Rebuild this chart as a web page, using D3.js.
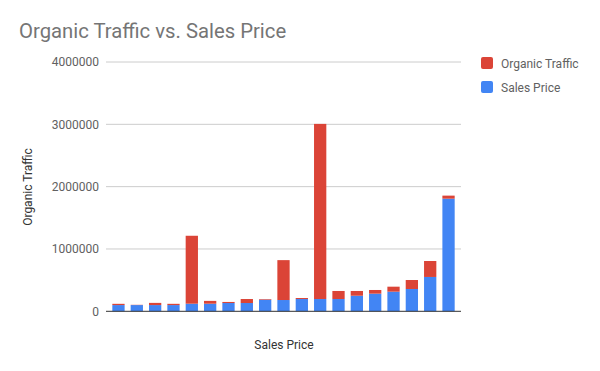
<!DOCTYPE html>
<html>
<head>
<meta charset="utf-8">
<script src="https://cdn.jsdelivr.net/npm/d3@7"></script>
<style>
  html, body { margin: 0; padding: 0; background: #fff; }
  svg { display: block; font-family: Roboto, "Noto Sans", sans-serif; }
</style>
</head>
<body>
<svg id="chart" width="600" height="371"></svg>
<script>
const categories = ["1","2","3","4","5","6","7","8","9","10","11","12","13","14","15","16","17","18","19"];
const salesPrice = [100000,100000,100000,100000,122000,122000,133000,133000,186000,181000,197000,197000,197000,250000,283000,315000,358000,551000,1807000];
const organicTraffic = [20000,4000,35000,20000,1090000,45000,17000,64000,10000,640000,16000,2810000,129000,76000,59000,80000,144000,256000,49000];
const yTicks = [0,1000000,2000000,3000000,4000000];
const seriesNames = ["Organic Traffic","Sales Price"];
const colors = {"Organic Traffic":"#db4437","Sales Price":"#4285f4"};

(function(){
const svg = d3.select("#chart");
const mLeft = 106, mRight = 461, mTop = 62, mBottom = 311.3;

const rows = categories.map((c,i)=>({cat:c, "Sales Price":salesPrice[i], "Organic Traffic":organicTraffic[i]}));
const stack = d3.stack().keys(["Sales Price","Organic Traffic"]);
const stacked = stack(rows);

const x = d3.scaleBand().domain(categories).range([mLeft,mRight]).paddingInner(0.33).paddingOuter(0.345);
const y = d3.scaleLinear().domain([0,4000000]).range([mBottom,mTop]);

// gridlines
svg.append("g").selectAll("line").data(yTicks.filter(d=>d>0)).join("line")
  .attr("x1",mLeft).attr("x2",mRight)
  .attr("y1",d=>y(d)).attr("y2",d=>y(d))
  .attr("stroke","#cccccc").attr("stroke-width",1);

// y axis labels
const yAxis = d3.axisLeft(y).tickValues(yTicks).tickSize(0).tickPadding(6).tickFormat(d3.format("d"));
const ya = svg.append("g").attr("transform",`translate(${mLeft-1},0)`).call(yAxis);
ya.select(".domain").remove();
ya.selectAll("text").attr("fill","#616161").style("font-size","12px").style("font-family","Roboto");

// bars
svg.append("g").selectAll("g").data(stacked).join("g")
  .attr("fill",d=>colors[d.key])
  .selectAll("rect").data(d=>d).join("rect")
  .attr("x",d=>x(d.data.cat))
  .attr("width",x.bandwidth())
  .attr("y",d=>y(d[1]))
  .attr("height",d=>Math.max(0,y(d[0])-y(d[1])));

// baseline
svg.append("line").attr("x1",mLeft).attr("x2",mRight)
  .attr("y1",y(0)).attr("y2",y(0)).attr("stroke","#333333").attr("stroke-width",1);

// title
svg.append("text").attr("x",19).attr("y",38).text("Organic Traffic vs. Sales Price")
  .attr("fill","#757575").style("font-size","20.3px").style("font-family","Roboto");

// axis titles
svg.append("text").attr("x",284).attr("y",349).attr("text-anchor","middle").text("Sales Price")
  .attr("fill","#333333").style("font-size","12px").style("font-family","Roboto");
svg.append("text").attr("transform","translate(32,187) rotate(-90)").attr("text-anchor","middle").text("Organic Traffic")
  .attr("fill","#333333").style("font-size","12px").style("font-family","Roboto");

// legend
const lg = svg.append("g").selectAll("g").data(seriesNames).join("g")
  .attr("transform",(d,i)=>`translate(481,${57+i*24})`);
lg.append("rect").attr("width",12).attr("height",12).attr("rx",2).attr("fill",d=>colors[d]);
lg.append("text").attr("x",20).attr("y",10.5).text(d=>d)
  .attr("fill","#616161").style("font-size","12px").style("font-family","Roboto");
})();
</script>
</body>
</html>
